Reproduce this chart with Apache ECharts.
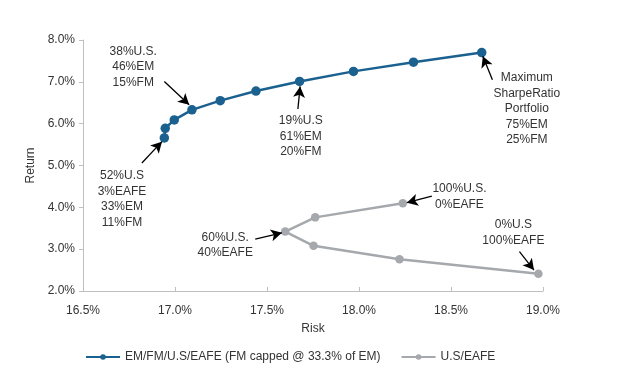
<!DOCTYPE html>
<html>
<head>
<meta charset="utf-8">
<script src="https://cdn.jsdelivr.net/npm/echarts@6/dist/echarts.min.js"></script>
<style>
html,body{margin:0;padding:0;background:#fff;}
#chart{width:640px;height:387px;}
</style>
</head>
<body>
<div id="chart"></div>
<script>
// Series data: [risk %, return %]
const emSeriesName = 'EM/FM/U.S/EAFE (FM capped @ 33.3% of EM)';
const usSeriesName = 'U.S/EAFE';
const emRisk   = [16.942, 16.947, 16.996, 17.092, 17.246, 17.440, 17.677, 17.970, 18.296, 18.667];
const emReturn = [5.66, 5.89, 6.09, 6.33, 6.55, 6.78, 7.01, 7.25, 7.47, 7.70];
const usRisk   = [18.238, 17.762, 17.599, 17.753, 18.220, 18.975];
const usReturn = [4.10, 3.76, 3.42, 3.08, 2.76, 2.41];

// Axis ticks
const xTicks = {min: 16.5, max: 19.0, interval: 0.5};
const yTicks = {min: 2.0, max: 8.0, interval: 1.0};

// Annotations (data coordinates)
const noteTexts = [
  '38%U.S.\n46%EM\n15%FM',
  '19%U.S\n61%EM\n20%FM',
  'Maximum\nSharpeRatio\nPortfolio\n75%EM\n25%FM',
  '52%U.S\n3%EAFE\n33%EM\n11%FM',
  '60%U.S.\n40%EAFE',
  '100%U.S.\n0%EAFE',
  '0%U.S\n100%EAFE'
];
const notePos = [
  [16.773, 7.36], [17.684, 5.69], [18.912, 6.35], [16.712, 4.20],
  [17.273, 3.10], [18.546, 4.25], [18.839, 3.39]
];
const arrowFrom = [
  [16.942, 7.01], [17.668, 6.35], [18.725, 7.05], [16.820, 5.06],
  [17.436, 3.24], [18.396, 4.27], [18.872, 2.94]
];
const arrowTo = [
  [17.077, 6.45], [17.680, 6.89], [18.673, 7.61], [16.929, 5.57],
  [17.581, 3.39], [18.260, 4.11], [18.951, 2.50]
];

const FONT = '"Liberation Sans", Arial, sans-serif';
const BLUE = '#1b6190';
const GRAY = '#a5a8ac';
const TXT = '#333333';
const AX = '#bfbfbf';

const emData = emRisk.map((x, i) => [x, emReturn[i]]);
const usData = usRisk.map((x, i) => [x, usReturn[i]]);

const chart = echarts.init(document.getElementById('chart'), null, {renderer: 'canvas'});
chart.setOption({
  animation: false,
  backgroundColor: '#ffffff',
  textStyle: {fontFamily: FONT},
  grid: {left: 83, right: 97, top: 40, bottom: 96, containLabel: false},
  legend: {
    data: [emSeriesName, usSeriesName],
    left: 80, top: 346,
    itemWidth: 34, itemHeight: 7, itemGap: 20,
    textStyle: {fontFamily: FONT, fontSize: 12, color: TXT},
    selectedMode: false
  },
  xAxis: {
    type: 'value',
    min: xTicks.min, max: xTicks.max, interval: xTicks.interval,
    name: 'Risk', nameLocation: 'middle', nameGap: 32,
    nameTextStyle: {fontFamily: FONT, fontSize: 12, color: TXT},
    axisLine: {show: true, lineStyle: {color: AX, width: 1}},
    axisTick: {show: true, inside: true, length: 4, lineStyle: {color: AX}},
    axisLabel: {fontFamily: FONT, fontSize: 12, color: TXT, margin: 14,
      formatter: v => v.toFixed(1) + '%'},
    splitLine: {show: false}
  },
  yAxis: {
    type: 'value',
    min: yTicks.min, max: yTicks.max, interval: yTicks.interval,
    name: 'Return', nameLocation: 'middle', nameGap: 45, nameRotate: 90,
    nameTextStyle: {fontFamily: FONT, fontSize: 12, color: TXT},
    axisLine: {show: true, lineStyle: {color: AX, width: 1}},
    axisTick: {show: true, inside: false, length: 4, lineStyle: {color: AX}},
    axisLabel: {fontFamily: FONT, fontSize: 12, color: TXT, margin: 8,
      formatter: v => v.toFixed(1) + '%'},
    splitLine: {show: false}
  },
  series: [
    {
      name: emSeriesName, type: 'line', data: emData,
      symbol: 'circle', symbolSize: 9.5, clip: false,
      lineStyle: {color: BLUE, width: 2.5},
      itemStyle: {color: BLUE},
      z: 3
    },
    {
      name: usSeriesName, type: 'line', data: usData,
      symbol: 'circle', symbolSize: 8.5, clip: false,
      lineStyle: {color: GRAY, width: 2.5},
      itemStyle: {color: GRAY},
      z: 2
    },
    {
      name: 'notes', type: 'line', data: [], silent: true,
      markLine: {
        silent: true, animation: false,
        symbol: ['none', 'arrow'], symbolSize: [9, 11],
        label: {show: false},
        lineStyle: {color: '#000000', width: 1.3, type: 'solid'},
        data: arrowFrom.map((p, i) => [{coord: p}, {coord: arrowTo[i]}])
      },
      markPoint: {
        silent: true, animation: false,
        symbol: 'rect', symbolSize: 1,
        itemStyle: {color: 'rgba(0,0,0,0)'},
        label: {show: true, position: 'inside', color: TXT, fontFamily: FONT,
          fontSize: 12, lineHeight: 15.5, align: 'center', verticalAlign: 'middle'},
        data: notePos.map((p, i) => ({coord: p, label: {formatter: noteTexts[i]}}))
      }
    }
  ]
});
</script>
</body>
</html>
